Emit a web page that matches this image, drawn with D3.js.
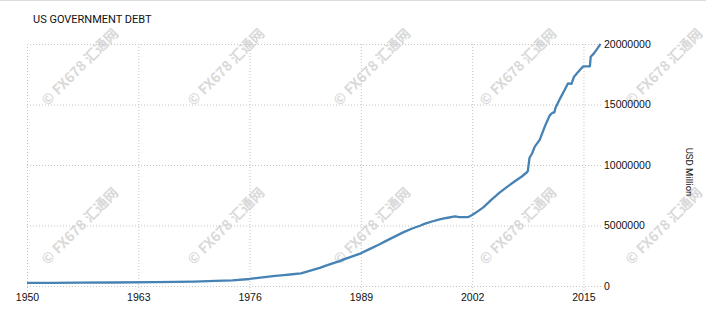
<!DOCTYPE html>
<html>
<head>
<meta charset="utf-8">
<script src="https://cdn.jsdelivr.net/npm/d3@7"></script>
<style>
  body { margin: 0; background: #fff; }
  svg { display: block; font-family: Roboto, "Liberation Sans", Arial, sans-serif; }
</style>
</head>
<body>
<div id="chart"></div>
<script>
// debt, USD million
const years = [1950, 1953, 1956, 1960, 1965, 1969.5, 1972, 1974, 1976, 1978, 1979, 1980, 1981, 1982, 1983,
  1984.2, 1985, 1986.5, 1987, 1988, 1989, 1990, 1991.2, 1992, 1993, 1994, 1995, 1995.9, 1996.5, 1997.3, 1998.2,
  1999, 2000, 2000.5, 2001.1, 2001.5, 2002, 2002.6, 2003.3, 2004.2, 2005.2, 2006.2, 2007.2, 2007.8, 2008.4,
  2008.5, 2008.7, 2009.0, 2009.3, 2009.9, 2010.5, 2011.06, 2011.35, 2011.6, 2011.75, 2012.2, 2012.8,
  2013.2, 2013.6, 2013.9, 2014.4, 2014.95, 2015.75, 2015.85, 2016.2, 2016.5, 2016.9, 2017.0];
const debt = [257000, 266000, 272000, 290000, 320000, 360000, 420000, 470000, 580000, 760000, 830000,
  900000, 970000, 1050000, 1250000, 1500000, 1700000, 2050000, 2200000, 2450000, 2700000, 3050000,
  3450000, 3750000, 4100000, 4450000, 4750000, 4980000, 5150000, 5330000, 5500000, 5620000, 5750000, 5690000,
  5700000, 5690000, 5870000, 6150000, 6500000, 7100000, 7710000, 8250000, 8760000, 9050000, 9400000,
  9500000, 10600000, 10950000, 11500000, 12100000, 13200000, 14100000, 14300000, 14350000, 14750000,
  15400000, 16200000, 16750000, 16700000, 17300000, 17700000, 18150000, 18150000, 18950000, 19200000,
  19500000, 19900000, 20000000];
const xTicks = [1950, 1963, 1976, 1989, 2002, 2015];
const yTicks = [0, 5000000, 10000000, 15000000, 20000000];
const title = 'US GOVERNMENT DEBT';
const unitLabel = 'USD Million';
const watermark = '\u00A9 FX678 汇通网';

const width = 706, height = 322;
const svg = d3.select('#chart').append('svg')
  .attr('width', width)
  .attr('height', height);

// top border of the widget
svg.append('line')
  .attr('x1', 0).attr('x2', width).attr('y1', 0.5).attr('y2', 0.5)
  .attr('stroke', '#dcdcdc');

const x = d3.scaleLinear().domain([1950, 2017.05]).range([27, 601]);
const y = d3.scaleLinear().domain([0, 20000000]).range([286, 44]);

svg.append('text')
  .attr('x', 33).attr('y', 23)
  .attr('font-size', 11)
  .attr('fill', '#111')
  .text(title);

// watermarks
const wmX = [80, 226, 372, 518, 664], wmY = [67, 226];
wmY.forEach(wy => wmX.forEach(wx => {
  svg.append('text')
    .attr('transform', 'translate(' + wx + ',' + wy + ') rotate(-45)')
    .attr('text-anchor', 'middle')
    .attr('dy', '0.35em')
    .attr('font-size', 14)
    .attr('font-weight', 'bold')
    .attr('font-family', '"Noto Sans CJK SC", Roboto, sans-serif')
    .attr('fill', '#d9d9d9')
    .text(watermark);
}));

// grid
svg.append('g')
  .selectAll('line')
  .data(xTicks)
  .enter().append('line')
  .attr('x1', d => x(d) + 0.5).attr('x2', d => x(d) + 0.5)
  .attr('y1', y(20000000)).attr('y2', y(0) + 5)
  .attr('stroke', '#c4c4c4')
  .attr('stroke-dasharray', '1,2');

svg.append('g')
  .selectAll('line')
  .data(yTicks)
  .enter().append('line')
  .attr('x1', x.range()[0]).attr('x2', x.range()[1])
  .attr('y1', d => y(d) + 0.5).attr('y2', d => y(d) + 0.5)
  .attr('stroke', '#c4c4c4')
  .attr('stroke-dasharray', '1,2');

// x axis
const xAxis = svg.append('g')
  .attr('transform', 'translate(0,' + y(0) + ')')
  .call(d3.axisBottom(x).tickValues(xTicks).tickFormat(d3.format('d')).tickSize(0).tickPadding(8));
xAxis.select('.domain').remove();
xAxis.selectAll('text').attr('font-size', 10.5).attr('fill', '#111').attr('font-family', null);

// y axis on the right
const yAxis = svg.append('g')
  .attr('transform', 'translate(' + x.range()[1] + ',0)')
  .call(d3.axisRight(y).tickValues(yTicks).tickFormat(d3.format('d')).tickSize(0).tickPadding(3));
yAxis.select('.domain').remove();
yAxis.selectAll('text').attr('font-size', 10.5).attr('fill', '#111').attr('font-family', null);

svg.append('text')
  .attr('transform', 'translate(686,172) rotate(90)')
  .attr('text-anchor', 'middle')
  .attr('font-size', 9.5)
  .attr('fill', '#111')
  .text(unitLabel);

// the line
const data = years.map((yr, i) => ({ year: yr, value: debt[i] }));
const line = d3.line()
  .x(d => x(d.year))
  .y(d => y(d.value));

svg.append('path')
  .datum(data)
  .attr('fill', 'none')
  .attr('stroke', '#4682b4')
  .attr('stroke-width', 2.3)
  .attr('stroke-linejoin', 'round')
  .attr('d', line);
</script>
</body>
</html>
